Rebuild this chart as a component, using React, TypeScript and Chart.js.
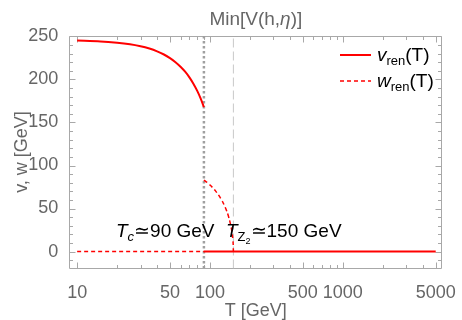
import React, { useEffect, useRef } from "react";
import { Chart, registerables } from "chart.js";
Chart.register(...registerables);

// ---- data ----
const vLowT = [10, 15, 20, 25, 30, 35, 40, 45, 50, 55, 60, 65, 70, 75, 80, 85, 90];
const vLowVals = [245.2, 244.2, 242.7, 240.9, 238.6, 235.9, 232.7, 229.0, 224.8, 220.1, 214.8, 209.0, 202.4, 195.1, 187.0, 178.0, 167.9];
const vHighT = [90, 5000];
const vHighVals = [0, 0];
const wLowT = [10, 90];
const wLowVals = [0, 0];
const wHighT = [90, 95, 100, 105, 110, 115, 120, 125, 130, 135, 140, 145, 148, 149.5, 150];
const wHighVals = [83, 80.3, 77.3, 74.1, 70.5, 66.6, 62.2, 57.3, 51.7, 45.2, 37.2, 26.6, 16.9, 8.5, 0];
const Tc = 90;
const TZ2 = 150;
const xMajorTicks = [10, 50, 100, 500, 1000, 5000];
const xMinorTicks = [20, 30, 40, 60, 70, 80, 90, 200, 300, 400, 600, 700, 800, 900, 2000, 3000, 4000];
const yMajorTicks = [0, 50, 100, 150, 200, 250];
const yMinorTicks = [-10, 10, 20, 30, 40, 60, 70, 80, 90, 110, 120, 130, 140, 160, 170, 180, 190, 210, 220, 230, 240];
const X_MIN = 8.73;
const X_MAX = 5610;
const Y_MIN = -19.7;
const Y_MAX = 250.5;

const FONT = "'Liberation Sans', Arial, sans-serif";
const GRAY_TEXT = "#666666";
const FRAME = "#a8a8a8";
const RED = "#ff0000";

type Seg = { t: string; italic?: boolean; size: number; dy?: number };

function drawRich(ctx: CanvasRenderingContext2D, segs: Seg[], x: number, y: number, color: string) {
  ctx.save();
  ctx.fillStyle = color;
  ctx.textBaseline = "alphabetic";
  ctx.textAlign = "left";
  let cx = x;
  for (const s of segs) {
    ctx.font = `${s.italic ? "italic " : ""}${s.size}px ${FONT}`;
    ctx.fillText(s.t, cx, y + (s.dy || 0));
    cx += ctx.measureText(s.t).width;
  }
  ctx.restore();
}

const pts = (xs: number[], ys: number[]) => xs.map((x, i) => ({ x, y: ys[i] }));

const decorPlugin = {
  id: "decor",
  beforeDatasetsDraw(chart: any) {
    const { ctx, chartArea, scales } = chart;
    const { left, right, top, bottom } = chartArea;
    const x = scales.x;
    const y = scales.y;
    ctx.save();
    ctx.strokeStyle = FRAME;
    ctx.lineWidth = 1;
    const L = Math.round(left) + 0.5;
    const R = Math.round(right) - 0.5;
    const T = Math.round(top) + 0.5;
    const B = Math.round(bottom) - 0.5;
    ctx.beginPath();
    ctx.rect(L, T, R - L, B - T);
    ctx.stroke();
    ctx.beginPath();
    const tickX = (v: number, len: number) => {
      const px = Math.round(x.getPixelForValue(v)) + 0.5;
      ctx.moveTo(px, B);
      ctx.lineTo(px, B - len);
      ctx.moveTo(px, T);
      ctx.lineTo(px, T + len);
    };
    const tickY = (v: number, len: number) => {
      const py = Math.round(y.getPixelForValue(v)) + 0.5;
      ctx.moveTo(L, py);
      ctx.lineTo(L + len, py);
      ctx.moveTo(R, py);
      ctx.lineTo(R - len, py);
    };
    xMajorTicks.forEach((v) => tickX(v, 6));
    xMinorTicks.forEach((v) => tickX(v, 3.5));
    yMajorTicks.forEach((v) => tickY(v, 6));
    yMinorTicks.forEach((v) => tickY(v, 3.5));
    ctx.stroke();
    ctx.restore();
  },
  afterDraw(chart: any) {
    const { ctx, chartArea } = chart;
    const { left, right } = chartArea;
    ctx.save();
    // title
    ctx.fillStyle = GRAY_TEXT;
    ctx.textBaseline = "alphabetic";
    const mid = (left + right) / 2;
    const t1 = "Min[V(h,";
    const t2 = "η";
    const t3 = ")]";
    ctx.font = `19px ${FONT}`;
    const w1 = ctx.measureText(t1).width;
    const w3 = ctx.measureText(t3).width;
    ctx.font = `italic 19px ${FONT}`;
    const w2 = ctx.measureText(t2).width;
    const sx = mid - (w1 + w2 + w3) / 2;
    ctx.textAlign = "left";
    ctx.font = `19px ${FONT}`;
    ctx.fillText(t1, sx, 25);
    ctx.font = `italic 19px ${FONT}`;
    ctx.fillText(t2, sx + w1, 25);
    ctx.font = `19px ${FONT}`;
    ctx.fillText(t3, sx + w1 + w2, 25);
    // x axis title
    ctx.font = `18px ${FONT}`;
    ctx.textAlign = "center";
    ctx.fillText("T [GeV]", mid, 316);
    // y axis title
    ctx.translate(21, 152);
    ctx.rotate(-Math.PI / 2);
    ctx.fillText("v, w [GeV]", 0, 6);
    ctx.restore();

    // legend
    ctx.save();
    ctx.strokeStyle = RED;
    ctx.lineWidth = 2;
    ctx.beginPath();
    ctx.moveTo(340, 55);
    ctx.lineTo(371, 55);
    ctx.stroke();
    ctx.setLineDash([4, 3]);
    ctx.lineWidth = 1.5;
    ctx.beginPath();
    ctx.moveTo(340, 81);
    ctx.lineTo(371, 81);
    ctx.stroke();
    ctx.restore();
    drawRich(ctx, [
      { t: "v", italic: true, size: 19 },
      { t: "ren", size: 13, dy: 4 },
      { t: "(T)", size: 19 },
    ], 377, 61, "#000");
    drawRich(ctx, [
      { t: "w", italic: true, size: 19 },
      { t: "ren", size: 13, dy: 4 },
      { t: "(T)", size: 19 },
    ], 377, 87, "#000");

    // annotations
    drawRich(ctx, [
      { t: "T", italic: true, size: 19 },
      { t: "c", italic: true, size: 13, dy: 4 },
      { t: "≃90 GeV", size: 19 },
    ], 116, 237, "#000");
    drawRich(ctx, [
      { t: "T", italic: true, size: 19 },
      { t: "Z", size: 13, dy: 4 },
      { t: "2", size: 9, dy: 7 },
      { t: "≃150 GeV", size: 19 },
    ], 226, 237, "#000");
  },
};

export default function App() {
  const ref = useRef<HTMLCanvasElement | null>(null);
  useEffect(() => {
    document.body.style.margin = "0";
    const canvas = ref.current;
    if (!canvas) return;
    const chart = new Chart(canvas, {
      type: "line",
      data: {
        datasets: [
          {
            label: "v_low",
            data: pts(vLowT, vLowVals),
            borderColor: RED,
            borderWidth: 2,
            pointRadius: 0,
            tension: 0.3,
          },
          {
            label: "v_high",
            data: pts(vHighT, vHighVals),
            borderColor: RED,
            borderWidth: 2,
            pointRadius: 0,
          },
          {
            label: "w_low",
            data: pts(wLowT, wLowVals),
            borderColor: RED,
            borderWidth: 1.5,
            borderDash: [4, 3],
            pointRadius: 0,
          },
          {
            label: "w_high",
            data: pts(wHighT, wHighVals),
            borderColor: RED,
            borderWidth: 1.5,
            borderDash: [4, 3],
            pointRadius: 0,
            tension: 0.2,
          },
          {
            label: "Tc",
            data: pts([Tc, Tc], [Y_MIN, Y_MAX]),
            borderColor: "#a0a0a0",
            borderWidth: 2.5,
            borderDash: [2.5, 2.5],
            pointRadius: 0,
          },
          {
            label: "TZ2",
            data: pts([TZ2, TZ2], [Y_MIN, Y_MAX]),
            borderColor: "#c8c8c8",
            borderWidth: 1,
            borderDash: [9, 4],
            pointRadius: 0,
          },
        ],
      },
      options: {
        animation: false,
        responsive: false,
        layout: { padding: { left: 0, top: 36, right: 15, bottom: 0 } },
        plugins: { legend: { display: false }, tooltip: { enabled: false }, title: { display: false } },
        scales: {
          x: {
            type: "logarithmic",
            min: X_MIN,
            max: X_MAX,
            grid: { display: false },
            border: { display: false },
            afterBuildTicks: (s: any) => {
              s.ticks = xMajorTicks.map((v) => ({ value: v }));
            },
            afterFit: (s: any) => {
              s.height = 51.5;
            },
            ticks: {
              autoSkip: false,
              maxRotation: 0,
              padding: 6,
              color: GRAY_TEXT,
              font: { family: FONT, size: 18 },
              callback: (v: any) => String(v),
            },
          },
          y: {
            type: "linear",
            min: Y_MIN,
            max: Y_MAX,
            grid: { display: false },
            border: { display: false },
            afterBuildTicks: (s: any) => {
              s.ticks = yMajorTicks.map((v) => ({ value: v }));
            },
            afterFit: (s: any) => {
              s.width = 69.3;
            },
            ticks: {
              padding: 3,
              color: GRAY_TEXT,
              font: { family: FONT, size: 18 },
              callback: (v: any) => String(v),
            },
          },
        },
      },
      plugins: [decorPlugin],
    });
    return () => chart.destroy();
  }, []);
  return (
    <div style={{ width: 462, height: 320 }}>
      <canvas ref={ref} width={462} height={320} style={{ width: 462, height: 320, display: "block" }} />
    </div>
  );
}
